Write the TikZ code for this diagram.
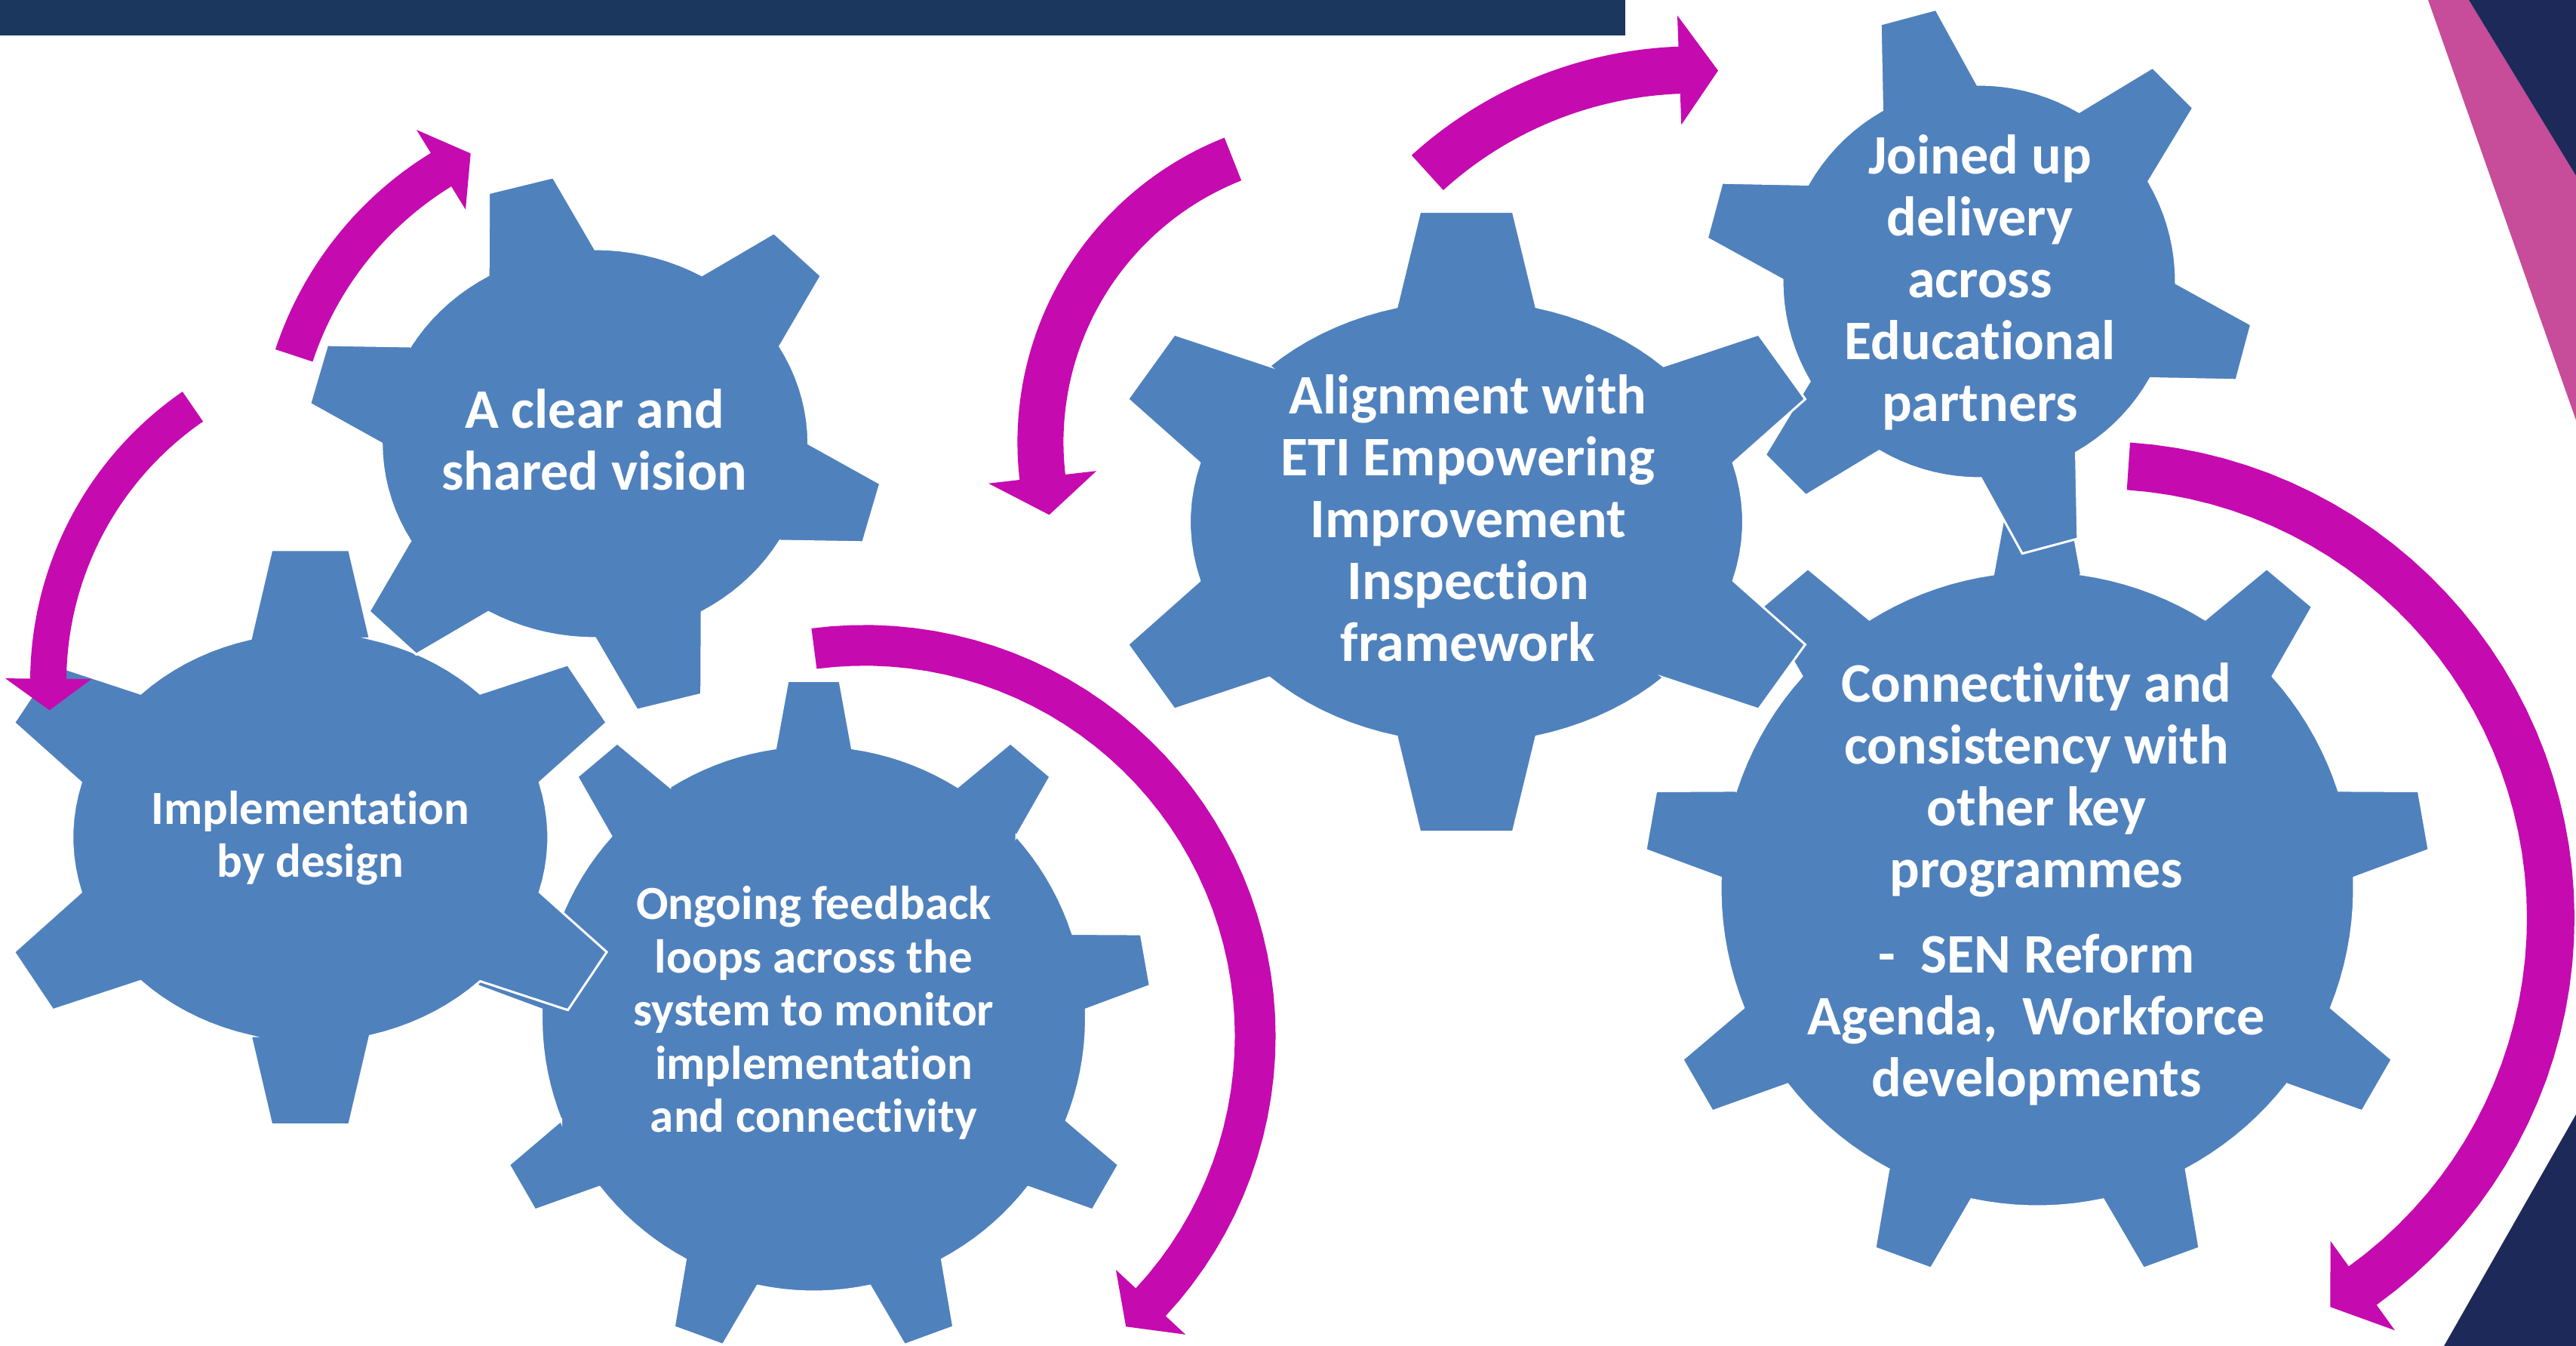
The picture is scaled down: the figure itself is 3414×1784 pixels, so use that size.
\documentclass[tikz,border=0pt]{standalone}
\usepackage{fontspec}
\setmainfont{Carlito}[Ligatures={NoCommon,NoRequired,NoContextual}]
\definecolor{gearblue}{RGB}{79,129,189}
\definecolor{arrowmag}{RGB}{197,10,176}
\definecolor{navyA}{RGB}{27,55,94}
\definecolor{navyB}{RGB}{29,41,88}
\definecolor{pinkband}{RGB}{199,76,153}
\newcommand{\fbig}{\fontsize{74}{82}\selectfont\bfseries}
\newcommand{\fsmall}{\fontsize{63}{70.5}\selectfont\bfseries}
% cx cy rx ry N phi L hb ht
\newcommand{\gearpath}[9]{%
  ({#1+#3*cos(#6-#8)},{#2-#4*sin(#6-#8)})
  \foreach \k [evaluate=\k as \gc using {#6+(\k-1)*360/#5},
               evaluate=\k as \gd using {#6+\k*360/#5-#8}] in {1,...,#5}{
    -- ({#1+#3*cos(\gc-#8)},{#2-#4*sin(\gc-#8)})
    -- ({#1+#3*cos(\gc-#9)+#7*cos(\gc)},{#2-#4*sin(\gc-#9)-#7*sin(\gc)})
    -- ({#1+#3*cos(\gc+#9)+#7*cos(\gc)},{#2-#4*sin(\gc+#9)-#7*sin(\gc)})
    -- ({#1+#3*cos(\gc+#8)},{#2-#4*sin(\gc+#8)})
    -- plot[domain=\gc+#8:\gd, samples=10, variable=\t] ({#1+#3*cos(\t)},{#2-#4*sin(\t)})
  } -- cycle}
% cx cy r t a1 a2 w a3
\newcommand{\carrowpath}[8]{%
  plot[domain=#5:#6, samples=50, variable=\t] ({#1+(#3+#4/2)*cos(\t)},{#2-(#3+#4/2)*sin(\t)})
  -- ({#1+(#3+#7)*cos(#6)},{#2-(#3+#7)*sin(#6)})
  -- ({#1+#3*cos(#8)},{#2-#3*sin(#8)})
  -- ({#1+(#3-#7)*cos(#6)},{#2-(#3-#7)*sin(#6)})
  -- plot[domain=#6:#5, samples=50, variable=\t] ({#1+(#3-#4/2)*cos(\t)},{#2-(#3-#4/2)*sin(\t)})
  -- cycle}
\begin{document}
\begin{tikzpicture}[x=1pt,y=-1pt,
  gearfill/.style={fill=gearblue, draw=white, line width=3pt, line join=miter},
  arrowfill/.style={fill=arrowmag},
  gtext/.style={anchor=base, text=white, inner sep=0pt, font=\fbig},
  gtextsmall/.style={gtext, font=\fsmall}]
\useasboundingbox (0,0) rectangle (3414,1784);
\clip (0,0) rectangle (3414,1784);
\fill[white] (0,0) rectangle (3414,1784);
% top bar and right decorations
\fill[navyA] (0,0) rectangle (2154,47);
\fill[pinkband] (3218,0) -- (3272,0) -- (3414,233) -- (3414,557) -- cycle;
\fill[navyB] (3272,0) -- (3414,0) -- (3414,233) -- cycle;
\fill[navyB] (3239,1784) -- (3414,1477) -- (3414,1784) -- cycle;
% gears
\filldraw[gearfill] \gearpath{1078.5}{1350}{361}{362}{9}{90}{87.3}{8.1}{5.5};
\filldraw[gearfill] \gearpath{411.3}{1109.8}{315.6}{272.1}{6}{90}{112.5}{14.5}{9.4};
\filldraw[gearfill] \gearpath{788.7}{588}{283}{258}{6}{105}{100}{15}{9};
\filldraw[gearfill] \gearpath{2700}{1178}{420}{421}{9}{90}{102}{8}{5.4};
\filldraw[gearfill] \gearpath{2623}{373}{261}{261}{6}{105}{105}{14.5}{8.4};
\filldraw[gearfill] \gearpath{1943.5}{691.6}{367}{294.3}{6}{90}{121}{14.6}{9.7};
% arrows
\fill[arrowfill] \carrowpath{824.5}{615}{458}{52}{161.7}{121.6}{62}{116};
\fill[arrowfill] \carrowpath{507}{903.5}{443}{48}{124.6}{179.5}{57}{184.9};
\fill[arrowfill] \carrowpath{1145.6}{1373.3}{518}{54}{97.4}{-42.9}{63}{-48};
\fill[arrowfill] \carrowpath{1782.5}{586.1}{403.6}{61}{111.6}{186.6}{72}{193.8};
\fill[arrowfill] \carrowpath{2244.9}{618.3}{525.7}{62.5}{132.2}{92.1}{72.5}{86.5};
\fill[arrowfill] \carrowpath{2780}{1217}{600.5}{63}{86.1}{-54.2}{73}{-59.1};
% texts
\node[gtext] (vision) at (788,567.8) {\begin{tabular}[t]{c}A clear and\\shared vision\end{tabular}};
\node[gtextsmall] (impl) at (411.3,1092.2) {\begin{tabular}[t]{c}Implementation\\by design\end{tabular}};
\node[gtextsmall] (feedback) at (1078.4,1218.6) {\begin{tabular}[t]{c}Ongoing feedback\\loops across the\\system to monitor\\implementation\\and connectivity\end{tabular}};
\node[gtext] (align) at (1945.6,548.1) {\begin{tabular}[t]{c}Alignment with\\ETI Empowering\\Improvement\\Inspection\\framework\end{tabular}};
\node[gtext] (joined) at (2624.1,230.2) {\begin{tabular}[t]{c}Joined up\\delivery\\across\\Educational\\partners\end{tabular}};
\node[gtext] (connect) at (2699,930) {\begin{tabular}[t]{c}Connectivity and\\consistency with\\other key\\programmes\\[31pt] -~~SEN Reform\\Agenda,~~Workforce\\developments\end{tabular}};
\end{tikzpicture}
\end{document}
